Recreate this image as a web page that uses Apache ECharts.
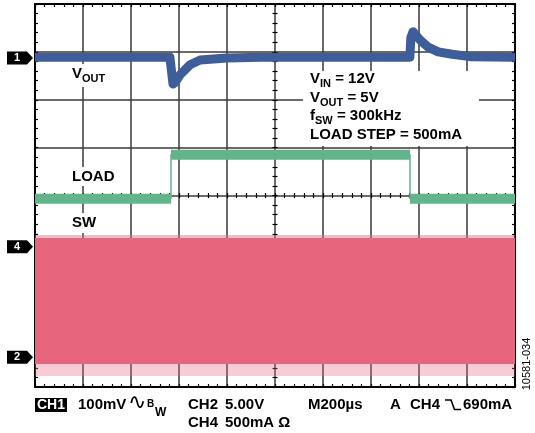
<!DOCTYPE html>
<html><head><meta charset="utf-8">
<script src="https://cdn.jsdelivr.net/npm/echarts@6/dist/echarts.min.js"></script>
<style>html,body{margin:0;padding:0;background:#fff}#c{width:535px;height:433px}</style>
</head><body><div id="c"></div>
<script>
// Horizontal unit: screen divisions (M = 200 µs/div). Vertical unit: screen divisions (0 = bottom edge).
const voutTime  = [0, 2.81, 2.875, 2.92, 3.02, 3.23, 3.44, 4.0, 4.7, 7.81, 7.83, 7.875, 8.02, 8.19, 8.40, 8.69, 9.06, 10];
const voutLevel = [6.89, 6.89, 6.33, 6.36, 6.52, 6.73, 6.83, 6.87, 6.89, 6.89, 7.30, 7.42, 7.25, 7.10, 7.00, 6.95, 6.90, 6.89];
const loadEdges  = [0, 2.833, 7.8125, 10];
const loadLevels = [3.93, 4.85, 3.93];
const swTime      = [0, 10];
const swSpikeLow  = 0.23;
const swLow       = 0.48;
const swHigh      = 3.11;
const swSpikeHigh = 3.175;
const channelMarks = [{ label: '1', level: 6.87 }, { label: '4', level: 2.93 }, { label: '2', level: 0.62 }];

const BLUE = '#3d5d9b', GREEN = '#62b58b', PINK = '#e7657d';
const FAM = '"Liberation Sans", Arial, Helvetica, sans-serif';

const chart = echarts.init(document.getElementById('c'), null, { renderer: 'canvas' });

function axis(kind, extra) {
  const base = {
    type: 'value', min: 0, max: kind === 'x' ? 10 : 8, interval: 1,
    axisLabel: { show: false },
    splitLine: { show: false },
    axisLine: { show: false, onZero: false },
    axisTick: { show: false },
    minorTick: { show: false },
    silent: true
  };
  return Object.assign(base, extra);
}
const borderLine = { show: true, onZero: false, lineStyle: { color: '#000', width: 2 } };
const ticks = (inside, len) => ({ show: true, inside: inside, length: len, lineStyle: { color: '#000', width: 1.2 } });
const minor = (len) => ({ show: true, splitNumber: 5, length: len, lineStyle: { color: '#000', width: 1.2 } });
const grid = { left: 35, top: 4, width: 480, height: 383 };

const xAxis = [
  axis('x', { position: 'bottom', axisLine: borderLine, axisTick: ticks(true, 3), minorTick: minor(3),
    splitLine: { show: true, lineStyle: { color: '#3a3a3a', width: 1.5 } } }),
  axis('x', { position: 'top', axisLine: borderLine, axisTick: ticks(true, 3), minorTick: minor(3) }),
  axis('x', { position: 'bottom', offset: -191.5, axisTick: ticks(true, 2.5), minorTick: minor(2.5) }),
  axis('x', { position: 'bottom', offset: -191.5, axisTick: ticks(false, 2.5), minorTick: minor(2.5) })
];
const yAxis = [
  axis('y', { position: 'left', axisLine: borderLine, axisTick: ticks(true, 3), minorTick: minor(3),
    splitLine: { show: true, lineStyle: { color: '#3a3a3a', width: 1.5 } } }),
  axis('y', { position: 'right', axisLine: borderLine, axisTick: ticks(true, 3), minorTick: minor(3) }),
  axis('y', { position: 'left', offset: -240, axisTick: ticks(true, 2.5), minorTick: minor(2.5) }),
  axis('y', { position: 'left', offset: -240, axisTick: ticks(false, 2.5), minorTick: minor(2.5) })
];

const series = [];
function lineSeries(data, color, width, extra) {
  return Object.assign({
    type: 'line', data: data, showSymbol: false, symbol: 'none', animation: false, silent: true,
    xAxisIndex: 0, yAxisIndex: 0, lineStyle: { color: color, width: width, cap: 'butt', join: 'round' }, z: 3
  }, extra || {});
}
function bandSeries(lo, hi, color) {
  return {
    type: 'line', data: swTime.map(t => [t, hi]), showSymbol: false, symbol: 'none', animation: false, silent: true,
    xAxisIndex: 0, yAxisIndex: 0, lineStyle: { width: 0, opacity: 0 },
    areaStyle: { color: color, opacity: 1, origin: lo }, z: 2
  };
}
// SW band
series.push(bandSeries(swSpikeLow, swLow, 'rgba(231,101,125,0.33)'));
series.push(bandSeries(swLow, swHigh, PINK));
series.push(bandSeries(swHigh, swSpikeHigh, 'rgba(231,101,125,0.45)'));
// LOAD: thin edges + thick levels
const loadPath = [];
loadLevels.forEach((lv, i) => { loadPath.push([loadEdges[i], lv], [loadEdges[i + 1], lv]); });
series.push(lineSeries(loadPath, GREEN, 1.5));
loadLevels.forEach((lv, i) => {
  series.push(lineSeries([[loadEdges[i], lv], [loadEdges[i + 1], lv]], GREEN, 10));
});
// VOUT
series.push(lineSeries(voutTime.map((t, i) => [t, voutLevel[i]]), BLUE, 9, { z: 4 }));

// ---------- text / annotation graphics ----------
const mctx = document.createElement('canvas').getContext('2d');
const gfx = [];
function run(x, baseline, parts) {
  let cx = x;
  parts.forEach(p => {
    const font = (p.w || 'bold') + ' ' + p.s + 'px ' + (p.f || FAM);
    mctx.font = font;
    const w = mctx.measureText(p.t).width;
    gfx.push({ type: 'text', x: cx, y: baseline + (p.dy || 0) - 0.355 * p.s, z: 100, silent: true,
      style: { text: p.t, font: font, fill: p.c || '#000', align: 'left', verticalAlign: 'middle' } });
    cx += w + (p.gap || 0);
  });
  return cx;
}
function rect(x, y, w, h, fill) {
  gfx.push({ type: 'rect', shape: { x: x, y: y, width: w, height: h }, z: 90, silent: true, style: { fill: fill } });
}
// white label backgrounds
rect(68, 64, 46, 23, '#fff');
rect(68, 167, 52, 19, '#fff');
rect(68, 213, 34, 20, '#fff');
rect(303, 71, 176, 75, '#fff');

run(72, 79, [{ t: 'V', s: 15 }, { t: 'OUT', s: 11, dy: 3.5 }]);
run(72, 182, [{ t: 'LOAD', s: 15 }]);
run(72, 228, [{ t: 'SW', s: 15 }]);

run(310, 84, [{ t: 'V', s: 15 }, { t: 'IN', s: 11, dy: 3.5 }, { t: ' = 12V', s: 15 }]);
run(310, 103, [{ t: 'V', s: 15 }, { t: 'OUT', s: 11, dy: 3.5 }, { t: ' = 5V', s: 15 }]);
run(310, 121, [{ t: 'f', s: 15 }, { t: 'SW', s: 11, dy: 3.5 }, { t: ' = 300kHz', s: 15 }]);
run(310, 140, [{ t: 'LOAD STEP = 500mA', s: 15 }]);

// channel markers
channelMarks.forEach(m => {
  const y = 387 - m.level * 383 / 8;
  gfx.push({ type: 'polygon', z: 100, silent: true,
    shape: { points: [[7, y - 6.5], [27, y - 6.5], [33, y], [27, y + 6.5], [7, y + 6.5]] }, style: { fill: '#000' } });
  gfx.push({ type: 'text', x: 17, y: y, z: 101, silent: true,
    style: { text: m.label, font: 'bold 11px ' + FAM, fill: '#fff', align: 'center', verticalAlign: 'middle' } });
});

// bottom status line
rect(35, 398, 32, 14, '#000');
gfx[gfx.length - 1].z = 100;
gfx.push({ type: 'text', x: 51, y: 405.5, z: 101, silent: true,
  style: { text: 'CH1', font: 'bold 14px ' + FAM, fill: '#fff', align: 'center', verticalAlign: 'middle' } });
run(78, 410, [{ t: '100mV', s: 15 }]);
gfx.push({ type: 'text', x: 128, y: 403, z: 100, silent: true,
  style: { text: '\u223F', font: '22px "DejaVu Sans", sans-serif', fill: '#000', align: 'left', verticalAlign: 'middle' } });
run(147, 408, [{ t: 'B', s: 10 }]);
run(155, 417, [{ t: 'W', s: 12 }]);
run(188, 410, [{ t: 'CH2', s: 15 }]);
run(225, 410, [{ t: '5.00V', s: 15 }]);
run(308, 410, [{ t: 'M200\u00B5s', s: 15 }]);
run(390, 410, [{ t: 'A', s: 15 }]);
run(410, 410, [{ t: 'CH4', s: 15 }]);
gfx.push({ type: 'polyline', z: 100, silent: true,
  shape: { points: [[445, 400], [451, 400], [454.5, 409.5], [461, 409.5]] }, style: { stroke: '#000', lineWidth: 1.6, fill: null } });
run(463, 410, [{ t: '690mA', s: 15 }]);
run(188, 428, [{ t: 'CH4', s: 15 }]);
run(225, 428, [{ t: '500mA \u03A9', s: 15 }]);

gfx.push({ type: 'text', x: 527, y: 364, rotation: Math.PI / 2, z: 100, silent: true,
  style: { text: '10581-034', font: '11px ' + FAM, fill: '#000', align: 'center', verticalAlign: 'middle' } });

chart.setOption({
  animation: false,
  backgroundColor: '#fff',
  grid: grid,
  xAxis: xAxis,
  yAxis: yAxis,
  series: series,
  graphic: { elements: gfx }
});
</script></body></html>
